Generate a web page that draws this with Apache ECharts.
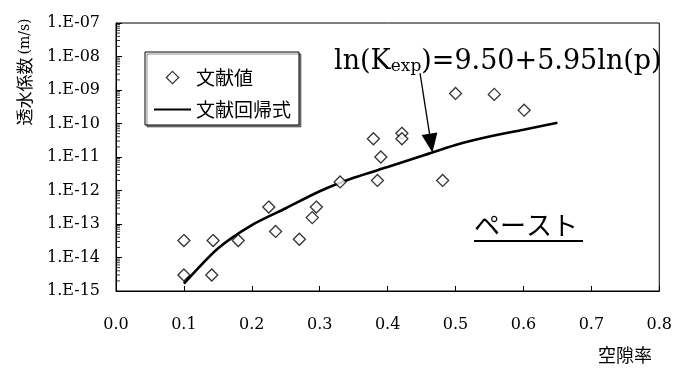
<!DOCTYPE html>
<html>
<head>
<meta charset="utf-8">
<script src="https://cdn.jsdelivr.net/npm/echarts@6/dist/echarts.min.js"></script>
<style>
html,body{margin:0;padding:0;background:#fff;}
#c{width:675px;height:374px;}
</style>
</head>
<body>
<div id="c"></div>
<script>
// ---- data ----
const litP = [0.100, 0.100, 0.143, 0.141, 0.180, 0.225, 0.235, 0.270, 0.289, 0.295, 0.330, 0.385, 0.390, 0.379, 0.421, 0.421, 0.481, 0.500, 0.557, 0.601];
const litK = [3.2e-14, 3.0e-15, 3.2e-14, 3.0e-15, 3.2e-14, 3.2e-13, 6.0e-14, 3.5e-14, 1.55e-13, 3.2e-13, 1.8e-12, 2.0e-12, 1.0e-11, 3.5e-11, 5.1e-11, 3.5e-11, 2.0e-12, 7.9e-10, 7.4e-10, 2.5e-10];
const fitP = [0.10, 0.15, 0.20, 0.25, 0.30, 0.35, 0.40, 0.45, 0.50, 0.55, 0.60, 0.65];
const fitK = [1.66e-15, 1.86e-14, 9.3e-14, 2.95e-13, 9.5e-13, 2.4e-12, 5.0e-12, 1.07e-11, 2.3e-11, 4.1e-11, 6.5e-11, 1.05e-10];
const xTicks = [0.0, 0.1, 0.2, 0.3, 0.4, 0.5, 0.6, 0.7, 0.8];
const yDecades = [-15, -14, -13, -12, -11, -10, -9, -8, -7];
const arrowFrom = [0.4477, 3.2e-9];
const arrowTo = [0.4638, 2.6e-11];
const seriesNames = ['文献値', '文献回帰式'];
const equationText = ['ln(K', 'exp', ')=9.50+5.95ln(p)'];
const pasteLabel = 'ペースト';
const yName = ['透水係数', '(m/s)'];
const xName = '空隙率';

const minorMult = [2, 3, 4, 5, 6, 7, 8, 9];
const minorTicks = [];
for (let i = 0; i < yDecades.length - 1; i++) {
  minorMult.forEach(m => minorTicks.push([xTicks[0], m * Math.pow(10, yDecades[i])]));
}

const chart = echarts.init(document.getElementById('c'), null, {renderer: 'canvas'});
const serif = 'DejaVu Serif';
const cjk = '"Noto Sans CJK JP"';
// diamond icon centred in a 37x13 legend cell (invisible moveTo points fix the box)
const legendDiamond = 'path://M0,0M37,13M18.5,0.3L24.7,6.5L18.5,12.7L12.3,6.5Z';

chart.setOption({
  backgroundColor: '#fff',
  animation: false,
  grid: {left: 116, right: 14, top: 23, bottom: 83, show: true, borderColor: '#000', borderWidth: 1},
  xAxis: {
    type: 'value', min: xTicks[0], max: xTicks[xTicks.length - 1], interval: 0.1,
    axisLine: {lineStyle: {color: '#000', width: 1}},
    axisTick: {show: true, inside: true, length: 5, lineStyle: {color: '#000'}},
    splitLine: {show: false},
    axisLabel: {color: '#000', fontFamily: serif, fontSize: 16, margin: 26, formatter: v => v.toFixed(1)}
  },
  yAxis: {
    type: 'log', logBase: 10,
    min: Math.pow(10, yDecades[0]), max: Math.pow(10, yDecades[yDecades.length - 1]),
    interval: 1,
    axisLine: {show: true, lineStyle: {color: '#000', width: 1}},
    axisTick: {show: true, inside: true, length: 6, lineStyle: {color: '#000'}},
    splitLine: {show: false},
    axisLabel: {
      color: '#000', fontFamily: serif, fontSize: 16, margin: 16, padding: [6, 0, 0, 0],
      formatter: v => {
        const e = Math.round(Math.log10(v));
        return '1.E-' + String(-e).padStart(2, '0');
      }
    }
  },
  legend: {
    data: [
      {name: seriesNames[0], icon: legendDiamond, itemStyle: {color: '#fff', borderColor: '#000', borderWidth: 1.2}},
      {name: seriesNames[1], itemStyle: {opacity: 0}}
    ],
    orient: 'vertical', left: 145, top: 52,
    padding: [16, 8, 6, 8],
    itemWidth: 37, itemHeight: 13, itemGap: 13,
    borderColor: '#000', borderWidth: 1,
    shadowColor: 'rgba(0,0,0,0.45)', shadowOffsetX: 2, shadowOffsetY: 2, shadowBlur: 0,
    backgroundColor: '#fff',
    textStyle: {color: '#000', fontFamily: cjk, fontSize: 19}
  },
  series: [
    {
      name: seriesNames[0], type: 'scatter',
      symbol: 'diamond', symbolSize: [12, 12],
      itemStyle: {color: '#fff', borderColor: '#000', borderWidth: 1.3},
      data: litP.map((p, i) => [p, litK[i]]),
      z: 3
    },
    {
      name: seriesNames[1], type: 'line',
      symbol: 'none', smooth: 0.25,
      lineStyle: {color: '#000', width: 2.6},
      itemStyle: {color: '#000'},
      data: fitP.map((p, i) => [p, fitK[i]]),
      z: 2,
      markLine: {
        silent: true, animation: false,
        symbol: ['none', 'triangle'], symbolSize: [16, 19],
        lineStyle: {color: '#000', width: 1.3, type: 'solid'},
        label: {show: false},
        data: [[{coord: arrowFrom}, {coord: arrowTo}]]
      }
    },
    {
      name: 'minor', type: 'scatter', silent: true, clip: false,
      symbol: 'rect', symbolSize: [4, 1], symbolOffset: [2, 0],
      itemStyle: {color: '#000'},
      data: minorTicks, z: 4
    }
  ],
  graphic: [
    {
      type: 'text', left: 334, top: 48,
      style: {
        text: '{m|' + equationText[0] + '}{s|' + equationText[1] + '}{m|' + equationText[2] + '}',
        rich: {
          m: {fontFamily: serif, fontSize: 27, fill: '#000'},
          s: {fontFamily: serif, fontSize: 17, fill: '#000', verticalAlign: 'bottom'}
        }
      }
    },
    {
      type: 'text', x: 25, y: 72, rotation: Math.PI / 2,
      style: {
        text: '{a|' + yName[0] + '}{b|' + yName[1] + '}',
        textAlign: 'center', textVerticalAlign: 'middle', align: 'center', verticalAlign: 'middle',
        rich: {
          a: {fontFamily: cjk, fontSize: 17, fill: '#000'},
          b: {fontFamily: serif, fontSize: 14, fill: '#000', padding: [0, 0, 0, 3]}
        }
      }
    },
    {
      type: 'text', x: 625, y: 355,
      style: {text: xName, fontFamily: cjk, fontSize: 18, fill: '#000',
        textAlign: 'center', textVerticalAlign: 'middle', align: 'center', verticalAlign: 'middle'}
    },
    {
      type: 'text', left: 474, top: 212,
      style: {text: pasteLabel, fontFamily: cjk, fontSize: 26, fill: '#000'}
    },
    {
      type: 'line', shape: {x1: 474, y1: 241, x2: 583, y2: 241},
      style: {stroke: '#000', lineWidth: 2}
    }
  ]
});
</script>
</body>
</html>
